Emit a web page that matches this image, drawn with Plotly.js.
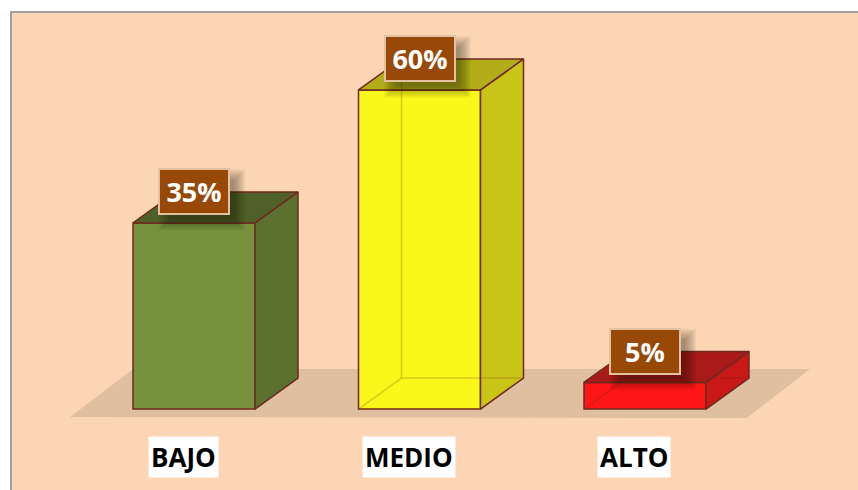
<!DOCTYPE html>
<html>
<head>
<meta charset="utf-8">
<script src="https://cdn.plot.ly/plotly-3.0.1.min.js"></script>
<style>html,body{margin:0;padding:0;background:#fff;}#chart{width:858px;height:490px;}</style>
</head>
<body>
<div id="chart"></div>
<script>
// ---- data ----
const categories = ['BAJO', 'MEDIO', 'ALTO'];
const values = [35, 60, 5];
const valueLabels = ['35%', '60%', '5%'];

// ---- styles ----
const frontColors = ['#76923C', '#FAF81A', '#FC1616'];
const sideColors  = ['#5C702F', '#C9C516', '#C81818'];
const topColors   = ['#4F6128', '#B2AD18', '#AA1A1A'];
const seeThrough  = [false, true, true];
const edge = '#6E2A1E';

const W = 858, H = 490;
const xr = [-0.8603, 2.9446];
const yr = [-15.23, 76.92];
const kx = W / (xr[1] - xr[0]);   // px per category unit
const ky = H / (yr[1] - yr[0]);   // px per percent
const px = n => n / kx;           // pixel -> x units
const py = n => n / ky;           // pixel -> y units

const hw = px(61), dx = px(43), dy = py(31);
const xs = categories.map((c, i) => i);

const traces = [];
// front faces
traces.push({
  type: 'bar', x: xs, y: values, width: 2 * hw,
  marker: { color: frontColors, line: { color: edge, width: 1.5 } },
  hoverinfo: 'skip'
});
xs.forEach((x, i) => {
  const v = values[i];
  // side face
  traces.push({
    type: 'scatter', mode: 'lines', fill: 'toself', fillcolor: sideColors[i],
    x: [x + hw, x + hw + dx, x + hw + dx, x + hw, x + hw],
    y: [0, dy, v + dy, v, 0],
    line: { color: edge, width: 1.5 }, hoverinfo: 'skip'
  });
  // top face
  traces.push({
    type: 'scatter', mode: 'lines', fill: 'toself', fillcolor: topColors[i],
    x: [x - hw, x - hw + dx, x + hw + dx, x + hw, x - hw],
    y: [v, v + dy, v + dy, v, v],
    line: { color: edge, width: 1.5 }, hoverinfo: 'skip'
  });
  if (seeThrough[i]) {
    traces.push({
      type: 'scatter', mode: 'lines',
      x: [x - hw, x - hw + dx, x + hw + dx, null, x - hw + dx, x - hw + dx],
      y: [0, dy, dy, null, dy, v + dy],
      line: { color: 'rgba(110,42,30,0.22)', width: 1.5 }, hoverinfo: 'skip'
    });
  }
});

const shapes = [
  // peach panel
  { type: 'rect', xref: 'paper', yref: 'paper', x0: 11 / W, x1: 1.02, y0: -0.02, y1: 1 - 12 / H,
    fillcolor: '#FCD5B5', line: { color: '#A0A0A0', width: 2 }, layer: 'below' },
  // floor
  { type: 'path', xref: 'x', yref: 'y', layer: 'below', line: { width: 0 }, fillcolor: '#DFBF9F',
    path: `M ${xs[0] - hw - px(63)},${-py(8)} L ${xs[2] + hw + px(41)},${-py(9)} L ${xs[2] + hw + px(104)},${py(40)} L ${xs[0] - hw},${py(40)} Z` }
];

const annotations = [];
xs.forEach((x, i) => {
  const yc = values[i] + dy;
  // soft shadow behind value box (stack of faint rectangles)
  for (let k = 0; k < 8; k++) {
    const g = k * 1.6;
    shapes.push({ type: 'rect', xref: 'x', yref: 'y', layer: 'above', line: { width: 0 },
      fillcolor: 'rgba(20,15,0,0.055)',
      x0: x - px(36) + px(12 - g), x1: x + px(36) + px(4 + g),
      y0: yc - py(23.5) - py(4 + g), y1: yc + py(23.5) - py(12 - g) });
  }
  annotations.push({
    x: x, y: yc, xref: 'x', yref: 'y', showarrow: false,
    text: '<b>' + valueLabels[i] + '</b>',
    font: { family: 'Open Sans, sans-serif', size: 27, color: '#FFFFFF' },
    bgcolor: '#984807', bordercolor: '#E2C1A0', borderwidth: 2, borderpad: 0,
    width: 68, height: 43, xanchor: 'center', yanchor: 'middle'
  });
  annotations.push({
    x: x - px(11), y: -py(48), xref: 'x', yref: 'y', showarrow: false,
    text: '<b>' + categories[i] + '</b>',
    font: { family: 'Open Sans, sans-serif', size: 26, color: '#000000' },
    bgcolor: '#FFFFFF', borderpad: 2, height: 36,
    xanchor: 'center', yanchor: 'middle'
  });
});

const layout = {
  width: W, height: H,
  margin: { l: 0, r: 0, t: 0, b: 0, pad: 0 },
  paper_bgcolor: '#FFFFFF', plot_bgcolor: 'rgba(0,0,0,0)',
  showlegend: false,
  xaxis: { range: xr, visible: false, fixedrange: true },
  yaxis: { range: yr, visible: false, fixedrange: true },
  shapes: shapes, annotations: annotations
};

Plotly.newPlot('chart', traces, layout, { displayModeBar: false, staticPlot: true });
</script>
</body>
</html>
